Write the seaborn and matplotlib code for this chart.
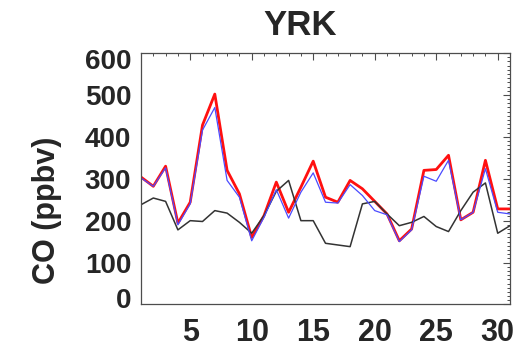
import numpy as np
import pandas as pd
import matplotlib
matplotlib.use("Agg")
import matplotlib.pyplot as plt
from matplotlib.ticker import MultipleLocator
from matplotlib.transforms import ScaledTranslation
import seaborn as sns

# Daily CO mixing ratios at YRK (ppbv)
days = list(range(1, 32))
co_red = [304, 282, 330, 194, 244, 428, 502, 320, 264, 160,
          212, 292, 220, 280, 342, 256, 244, 296, 276, 246,
          216, 152, 180, 320, 322, 356, 202, 220, 344, 228, 228]
co_blue = [302, 282, 326, 190, 240, 416, 470, 296, 256, 152,
           208, 274, 206, 268, 314, 244, 242, 286, 260, 224,
           214, 150, 178, 306, 294, 344, 202, 220, 324, 220, 216]
co_black = [238, 254, 246, 178, 200, 198, 224, 218, 196, 170,
            212, 270, 296, 200, 200, 146, 142, 138, 240, 246,
            216, 188, 196, 210, 186, 174, 224, 268, 290, 170, 188]
x_ticks = [5, 10, 15, 20, 25, 30]
y_ticks = [0, 100, 200, 300, 400, 500, 600]

sns.set_theme(style="white")
plt.rcParams["font.family"] = ["Liberation Sans", "DejaVu Sans"]
plt.rcParams["font.weight"] = "bold"

df = pd.DataFrame({"day": days, "red": co_red, "blue": co_blue, "black": co_black})

fig = plt.figure(figsize=(5.18, 3.51), dpi=100)
ax = fig.add_axes([0.2722, 0.1325, 0.7124, 0.7165])

sns.lineplot(data=df, x="day", y="red", ax=ax, color="#ff1010", linewidth=2.0)
sns.lineplot(data=df, x="day", y="black", ax=ax, color="#333333", linewidth=1.1)
sns.lineplot(data=df, x="day", y="blue", ax=ax, color="#4b4bff", linewidth=0.9)

ax.set_xlim(1, 31)
ax.set_ylim(0, 600)
ax.set_xticks(x_ticks)
ax.set_yticks(y_ticks)
ax.xaxis.set_minor_locator(MultipleLocator(1))
ax.yaxis.set_minor_locator(MultipleLocator(10))
ax.tick_params(which="both", direction="in", top=True, right=True, color="#4d4d4d")
ax.tick_params(which="major", length=5, width=0.8)
ax.tick_params(which="minor", length=2.5, width=0.7)
ax.tick_params(axis="x", which="major", labelsize=22, pad=10)
ax.tick_params(axis="y", which="major", labelsize=20, pad=7)
for lbl in ax.get_xticklabels() + ax.get_yticklabels():
    lbl.set_fontweight("bold")

# pull the end labels of the y axis slightly inward
ylabels = ax.get_yticklabels()
ylabels[0].set_transform(ylabels[0].get_transform() + ScaledTranslation(0, 6 / 100, fig.dpi_scale_trans))
ylabels[-1].set_transform(ylabels[-1].get_transform() + ScaledTranslation(0, -6 / 100, fig.dpi_scale_trans))

for sp in ax.spines.values():
    sp.set_color("#4d4d4d")
    sp.set_linewidth(0.9)

ax.set_xlabel("")
ax.set_ylabel("")
fig.text(47 / 518, 0.40, "CO (ppbv)", fontsize=22, fontweight="bold",
         rotation=90, ha="center", va="center")

fig.text(0.579, 0.900, "YRK", fontsize=25, fontweight="bold", ha="center", va="baseline")

fig.savefig("out.png", dpi=100)
